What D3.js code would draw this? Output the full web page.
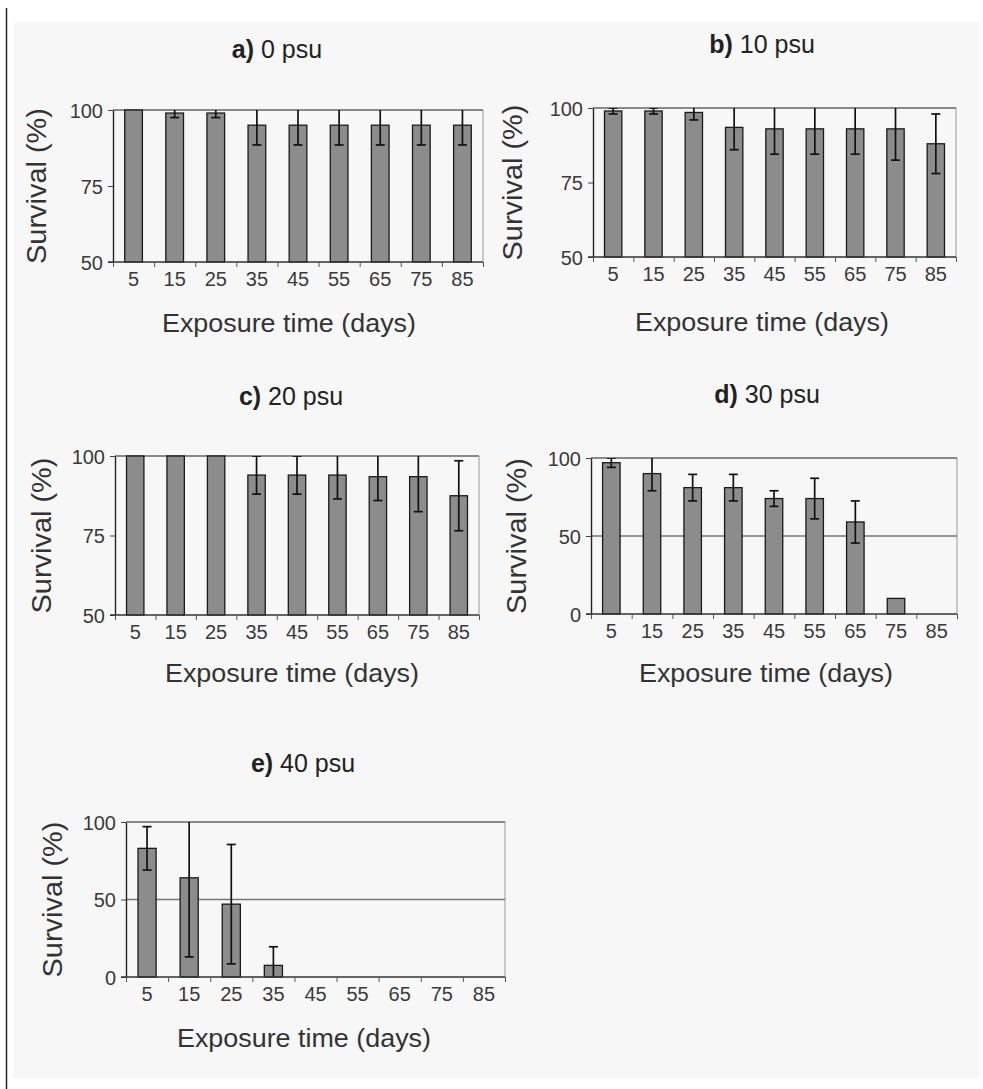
<!DOCTYPE html>
<html>
<head>
<meta charset="utf-8">
<script src="https://cdnjs.cloudflare.com/ajax/libs/d3/7.8.5/d3.min.js"></script>
<style>
  body { margin: 0; background: #fff; }
  svg { display: block; font-family: Arial, "Liberation Sans", sans-serif; }
</style>
</head>
<body>
<svg id="fig" width="983" height="1089"></svg>
<script>
// exposure days (categories)
const days = [5, 15, 25, 35, 45, 55, 65, 75, 85];

// survival (%) means and error half-widths
const mean0  = [100, 99, 99, 95, 95, 95, 95, 95, 95];
const err0   = [0, 1.5, 1.5, 6.5, 6.5, 6.5, 6.5, 6.5, 6.5];
const mean10 = [99, 99, 98.5, 93.5, 93, 93, 93, 93, 88];
const err10  = [1, 1, 2.5, 7.5, 8.5, 8.5, 8.5, 10.5, 10];
const mean20 = [100, 100, 100, 94, 94, 94, 93.5, 93.5, 87.5];
const err20  = [0, 0, 0, 6, 6, 7.5, 7.5, 11, 11];
const mean30 = [97, 90, 81, 81, 74, 74, 59, 10, 0];
const err30  = [3, 11, 8.5, 8.5, 5, 13, 13.5, 0, 0];
const mean40 = [83, 64, 47, 7.5, 0, 0, 0, 0, 0];
const err40  = [14, 51, 38.5, 12, 0, 0, 0, 0, 0];

const titleLetters = ["a)", "b)", "c)", "d)", "e)"];
const titleTexts   = [" 0 psu", " 10 psu", " 20 psu", " 30 psu", " 40 psu"];
const ticksHigh = [50, 75, 100];   // panels a-c
const ticksFull = [0, 50, 100];    // panels d-e

const svg = d3.select("#fig");

// page frame: left rule + light grey figure background
svg.append("line")
    .attr("x1", 6.5).attr("x2", 6.5).attr("y1", 8).attr("y2", 1089)
    .attr("stroke", "#222").attr("stroke-width", 1.5);
svg.append("rect")
    .attr("x", 14).attr("y", 22).attr("width", 966).attr("height", 1056)
    .attr("fill", "#f7f7f7");

// one entry per panel; positions only
const panels = [
  {mean: mean0,  err: err0,  dom: [50, 100], ticks: ticksHigh, grid: [],   l: 113, r: 483, t: 110, b: 262, tx: 277, ty: 58,  lx: 46,  xlx: 289, xly: 332},
  {mean: mean10, err: err10, dom: [50, 100], ticks: ticksHigh, grid: [],   l: 593, r: 956, t: 108, b: 257, tx: 762, ty: 53,  lx: 522, xlx: 762, xly: 331},
  {mean: mean20, err: err20, dom: [50, 100], ticks: ticksHigh, grid: [],   l: 115, r: 479, t: 456, b: 615, tx: 291, ty: 405, lx: 51,  xlx: 292, xly: 682},
  {mean: mean30, err: err30, dom: [0, 100],  ticks: ticksFull, grid: [50], l: 591, r: 957, t: 458, b: 614, tx: 767, ty: 403, lx: 526, xlx: 766, xly: 682},
  {mean: mean40, err: err40, dom: [0, 100],  ticks: ticksFull, grid: [50], l: 126, r: 505, t: 822, b: 977, tx: 303, ty: 772, lx: 62,  xlx: 304, xly: 1047}
];

panels.forEach(function(p, i) {
  const w = p.r - p.l, h = p.b - p.t;
  const g = svg.append("g").attr("transform", "translate(" + p.l + "," + p.t + ")");

  const x = d3.scaleBand().domain(days).range([0, w]).paddingInner(0.57).paddingOuter(0.285);
  const y = d3.scaleLinear().domain(p.dom).range([h, 0]);
  // band boundaries, used for the x tick marks
  const xb = d3.scaleLinear().domain([0, days.length]).range([0, w]);

  g.append("clipPath").attr("id", "clip" + i)
    .append("rect").attr("width", w).attr("height", h);

  // right border, top line (100) and horizontal gridlines
  g.append("line").attr("x1", w).attr("x2", w).attr("y1", 0).attr("y2", h)
      .attr("stroke", "#999").attr("stroke-width", 1);
  g.append("line").attr("x1", 0).attr("x2", w).attr("y1", y(100)).attr("y2", y(100))
      .attr("stroke", "#666").attr("stroke-width", 1.3);
  g.selectAll(".grid").data(p.grid).enter().append("line")
      .attr("x1", 0).attr("x2", w).attr("y1", d => y(d)).attr("y2", d => y(d))
      .attr("stroke", "#777").attr("stroke-width", 1.3);

  const data = days.map((d, k) => ({day: d, m: p.mean[k], e: p.err[k]}));

  // bars
  g.selectAll(".bar").data(data.filter(d => d.m > 0)).enter().append("rect")
      .attr("x", d => x(d.day))
      .attr("y", d => y(d.m))
      .attr("width", x.bandwidth())
      .attr("height", d => h - y(d.m))
      .attr("fill", "#8c8c8c")
      .attr("stroke", "#1a1a1a")
      .attr("stroke-width", 1.3);

  // error bars, clipped to the plot area like the original
  const eb = g.append("g").attr("clip-path", "url(#clip" + i + ")")
      .attr("stroke", "#111").attr("stroke-width", 1.7);
  const withErr = data.filter(d => d.e > 0);
  const cx = d => x(d.day) + x.bandwidth() / 2;
  eb.selectAll(".v").data(withErr).enter().append("line")
      .attr("x1", cx).attr("x2", cx)
      .attr("y1", d => y(d.m + d.e)).attr("y2", d => y(d.m - d.e));
  eb.selectAll(".hi").data(withErr).enter().append("line")
      .attr("x1", d => cx(d) - 4.5).attr("x2", d => cx(d) + 4.5)
      .attr("y1", d => y(d.m + d.e)).attr("y2", d => y(d.m + d.e));
  eb.selectAll(".lo").data(withErr).enter().append("line")
      .attr("x1", d => cx(d) - 4.5).attr("x2", d => cx(d) + 4.5)
      .attr("y1", d => y(d.m - d.e)).attr("y2", d => y(d.m - d.e));

  // y axis
  const ya = g.append("g")
      .call(d3.axisLeft(y).tickValues(p.ticks).tickSize(5).tickPadding(5).tickSizeOuter(0));
  ya.select(".domain").attr("stroke", "#222").attr("stroke-width", 1.4);
  ya.selectAll(".tick line").attr("stroke", "#444");
  ya.selectAll("text").attr("font-size", 20).attr("font-family", null)
      .attr("fill", "#3a3a3a").attr("dy", "0.35em");

  // x axis: boundary tick marks + centred day labels
  const xt = g.append("g").attr("transform", "translate(0," + h + ")")
      .call(d3.axisBottom(xb).tickValues(d3.range(days.length + 1)).tickFormat("").tickSize(5).tickSizeOuter(0));
  xt.select(".domain").attr("d", "M-5,0H" + w).attr("stroke", "#333").attr("stroke-width", 1.4);
  xt.selectAll(".tick line").attr("stroke", "#555");

  const xl = g.append("g").attr("transform", "translate(0," + h + ")")
      .call(d3.axisBottom(x).tickSize(0).tickPadding(10));
  xl.select(".domain").remove();
  xl.selectAll("text").attr("font-size", 20).attr("font-family", null).attr("fill", "#3a3a3a");

  // panel title
  const tt = svg.append("text")
      .attr("x", p.tx).attr("y", p.ty)
      .attr("text-anchor", "middle")
      .attr("font-size", 25).attr("fill", "#222");
  tt.append("tspan").attr("font-weight", "bold").text(titleLetters[i]);
  tt.append("tspan").text(titleTexts[i]);

  // axis titles
  svg.append("text")
      .attr("transform", "translate(" + p.lx + "," + (p.t + h / 2) + ") rotate(-90)")
      .attr("text-anchor", "middle")
      .attr("font-size", 28).attr("fill", "#333")
      .attr("textLength", 156).attr("lengthAdjust", "spacingAndGlyphs")
      .text("Survival (%)");
  svg.append("text")
      .attr("x", p.xlx).attr("y", p.xly)
      .attr("text-anchor", "middle")
      .attr("font-size", 26).attr("fill", "#333")
      .attr("textLength", 254).attr("lengthAdjust", "spacingAndGlyphs")
      .text("Exposure time (days)");
});
</script>
</body>
</html>
